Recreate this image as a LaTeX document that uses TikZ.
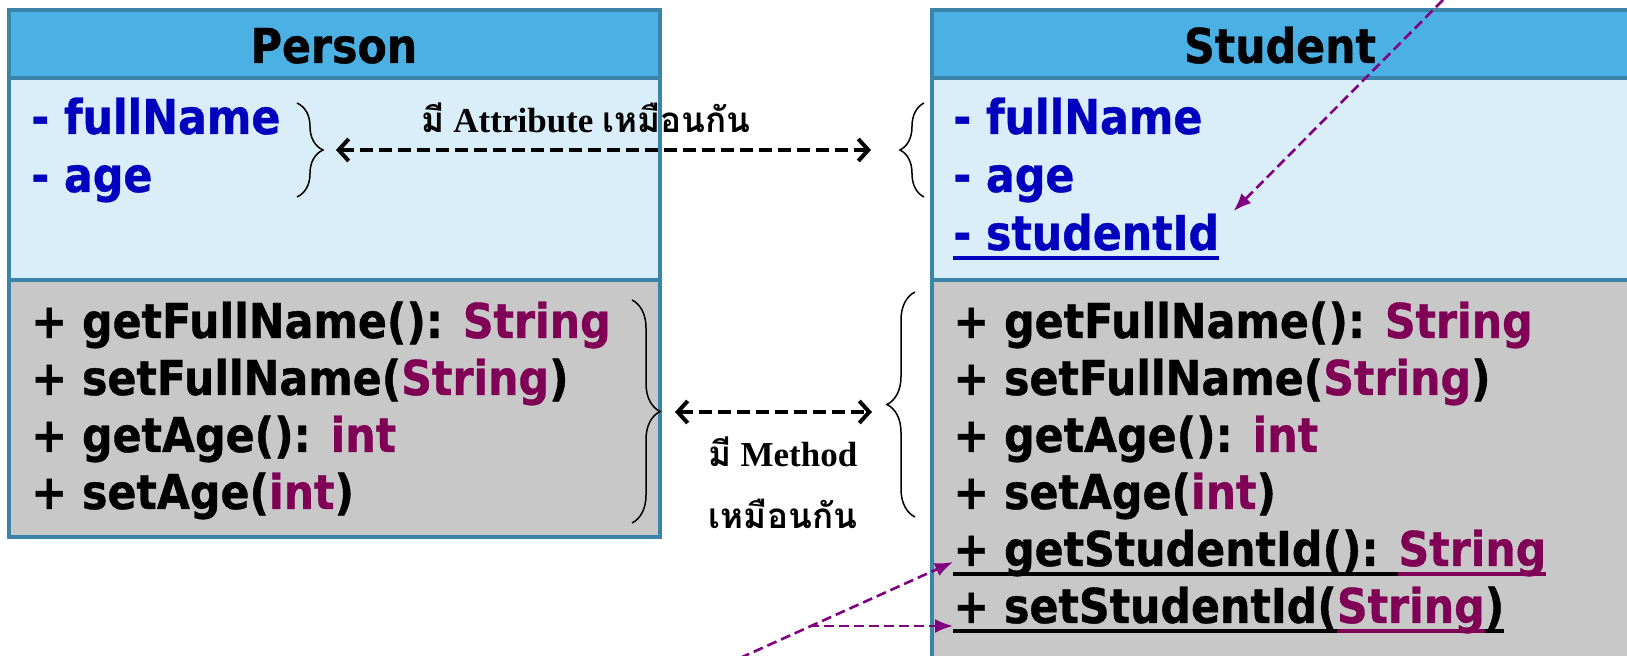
\documentclass[tikz,border=0pt]{standalone}
\usepackage{fontspec}
\usetikzlibrary{arrows.meta,decorations.pathreplacing}
\setmainfont{Liberation Serif}
\newfontfamily\umlfont{DejaVu Sans}[FakeStretch=0.89, BoldFeatures={FakeBold=0.8}]
\newfontfamily\thaifont[Script=Thai]{Loma}

\definecolor{umlborder}{RGB}{58,132,170}
\definecolor{umlhead}{RGB}{75,177,228}
\definecolor{umlattr}{RGB}{218,238,249}
\definecolor{umlmeth}{RGB}{200,200,200}
\definecolor{attrblue}{RGB}{0,0,190}
\definecolor{typepurple}{RGB}{127,0,85}
\definecolor{notepurple}{RGB}{128,0,128}

\newcommand{\ty}[1]{\textcolor{typepurple}{#1}}
% thick underline close to the descenders
\newcommand{\ulx}[1]{\setbox0\hbox{#1}\rlap{\rule[-0.2em]{\wd0}{0.075em}}\box0}

\tikzset{
  classtitle/.style={font=\umlfont\bfseries\fontsize{24}{28}\selectfont, inner sep=0pt, anchor=base},
  member/.style={font=\umlfont\bfseries\fontsize{24}{28}\selectfont, inner sep=0pt, anchor=base west},
  attr/.style={member, text=attrblue},
  section/.style={draw=umlborder, line width=2pt},
  bracebar/.style={decorate, decoration={brace, amplitude=#1}, line width=0.75pt},
  same/.style={line width=2pt, dash pattern=on 6.5pt off 3pt,
    {Straight Barb[length=5pt,width=11pt]}-{Straight Barb[length=5pt,width=11pt]}},
  pointer/.style={notepurple, line width=1.3pt, dash pattern=on 5pt off 2.5pt,
    -{Latex[length=9pt,width=7pt]}},
  note/.style={font=\bfseries\fontsize{17.5}{20}\selectfont, inner sep=0pt, anchor=base},
}

\begin{document}
\begin{tikzpicture}[x=0.5pt,y=-0.5pt]
  \useasboundingbox (0,0) rectangle (1627,656);
  \clip (0,0) rectangle (1627,656);

  % class boxes
  \filldraw[section, fill=umlhead] (9,10) rectangle (660,78);
  \filldraw[section, fill=umlattr] (9,78) rectangle (660,280);
  \filldraw[section, fill=umlmeth] (9,280) rectangle (660,537);
  \filldraw[section, fill=umlhead] (932,10) rectangle (1640,78);
  \filldraw[section, fill=umlattr] (932,78) rectangle (1640,280);
  \filldraw[section, fill=umlmeth] (932,280) rectangle (1640,680);

  \node[classtitle] (person) at (334,63) {Person};
  \node[classtitle] (student) at (1280,63) {Student};

  % attributes
  \foreach \name [count=\i from 0] in {fullName,age} {
    \node[attr] (pa\i) at (31,134+58*\i) {- \name};
    \node[attr] (sa\i) at (953,134+58*\i) {- \name};
  }
  \node[attr] (sa2) at (953,250) {\ulx{- studentId}};

  % methods
  \foreach \sig [count=\i from 0] in {{+ getFullName(): \ty{String}},
      {+ setFullName(\ty{String})}, {+ getAge(): \ty{int}}, {+ setAge(\ty{int})}} {
    \node[member] (pm\i) at (31,338+57*\i) {\sig};
    \node[member] (sm\i) at (953,338+57*\i) {\sig};
  }
  \node[member] (sm4) at (953,566) {\ulx{+ getStudentId(): }\textcolor{typepurple}{\ulx{String}}};
  \node[member] (sm5) at (953,623) {\ulx{+ setStudentId(}\textcolor{typepurple}{\ulx{String}}\ulx{)}};

  % braces
  \draw[bracebar=13pt] (297,103) -- (297,197);
  \draw[bracebar=12pt] (924,197) -- (924,103);
  \draw[bracebar=14pt] (632,300) -- (632,523);
  \draw[bracebar=14pt] (915,517) -- (915,292);

  % shared parts
  \coordinate (attrL) at (336,150);
  \coordinate (attrR) at (871,150);
  \coordinate (methL) at (675,412);
  \coordinate (methR) at (872,412);
  \draw[same] (attrL) -- (attrR);
  \draw[same] (methL) -- (methR);
  \node[note] (attrnote) at (586,133) {{\thaifont มี} Attribute {\thaifont เหมือนกัน}};
  \node[note] (methnote) at (783,467) {{\thaifont มี} Method};
  \node[note] (methnote2) at (783,529) {\thaifont เหมือนกัน};

  % new parts
  \coordinate (noteTop) at (1443,0);
  \coordinate (noteLow) at (740,658);
  \coordinate (fork) at (809,626);
  \draw[pointer] (noteTop) -- ([xshift=7pt,yshift=1pt]sa2.north east);
  \draw[pointer] (noteLow) -- ([yshift=2pt]sm4.base west);
  \draw[pointer] (fork) -- ([yshift=-1.5pt]sm5.base west);
\end{tikzpicture}
\end{document}
